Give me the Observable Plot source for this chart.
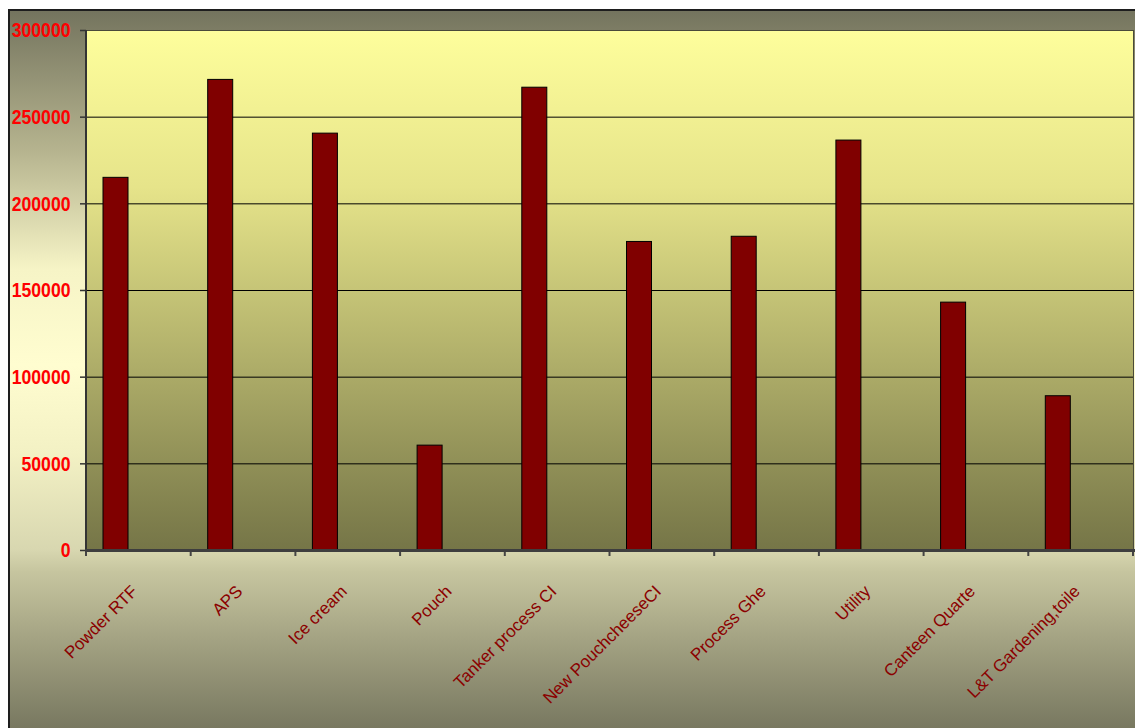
<!DOCTYPE html>
<html>
<head>
<meta charset="utf-8">
<script src="https://cdn.jsdelivr.net/npm/d3@7"></script>
<script src="https://cdn.jsdelivr.net/npm/@observablehq/plot@0.6"></script>
<style>
  html, body { margin: 0; padding: 0; background: #fff; width: 1135px; height: 728px; overflow: hidden; }
  #panel {
    position: absolute; left: 8px; top: 9px; width: 1150px; height: 740px;
    box-sizing: border-box;
    border-left: 2px solid #1e1e1e; border-top: 2px solid #1e1e1e;
    background: linear-gradient(to bottom,
      #74745e 0%, #b6b48f 19%, #f6f4c6 35%, #fffdd0 48%,
      #f3f1c4 60%, #d8d7b0 73%, #c6c59f 76%, #a4a383 85%, #6e6e58 100%);
  }
  #chart { position: absolute; left: 0; top: 0; }
</style>
</head>
<body>
<div id="panel"></div>
<div id="chart"></div>
<script>
// Consumption per section
const categories = [
  "Powder RTF", "APS", "Ice cream", "Pouch", "Tanker process CI",
  "New PouchcheeseCI", "Process Ghe", "Utility", "Canteen Quarte", "L&T Gardening,toile"
];
const values = [215000, 271500, 240500, 60500, 267000, 178000, 181000, 236500, 143000, 89000];
const yTicks = [0, 50000, 100000, 150000, 200000, 250000, 300000];
const gridValues = yTicks.filter(v => v > 0 && v < 300000);

const data = categories.map((category, i) => ({category, value: values[i]}));

const W = 1135, H = 728;
const mL = 86, mR = 2, mT = 30, mB = 178;
const step = (W - mL - mR) / categories.length;

// Axis lines and category boundary ticks, drawn from the plot's scales
function categoryAxis(index, scales, values, dimensions) {
  const {x, y} = scales;
  const y0 = y(0);
  const bw = x.bandwidth ? x.bandwidth() : step;
  const starts = categories.map(c => (x.bandwidth ? x(c) : x(c) - bw / 2));
  const bounds = starts.concat([starts[starts.length - 1] + bw]);
  const g = d3.create("svg:g");
  g.append("line")
    .attr("x1", starts[0]).attr("x2", starts[0])
    .attr("y1", y(300000)).attr("y2", y0)
    .attr("stroke", "#333").attr("stroke-width", 2);
  g.append("line")
    .attr("x1", starts[0] - 1).attr("x2", dimensions.width + 2)
    .attr("y1", y0 + 0.5).attr("y2", y0 + 0.5)
    .attr("stroke", "#3e3e3e").attr("stroke-width", 3);
  g.selectAll("line.tk").data(bounds).join("line")
    .attr("class", "tk")
    .attr("x1", d => d).attr("x2", d => d)
    .attr("y1", y0 + 2).attr("y2", y0 + 6)
    .attr("stroke", "#444").attr("stroke-width", 2);
  return g.node();
}

const chart = Plot.plot({
  width: W,
  height: H,
  marginLeft: mL,
  marginRight: mR,
  marginTop: mT,
  marginBottom: mB,
  style: {background: "transparent", overflow: "visible", fontFamily: "'Liberation Sans', Arial, sans-serif"},
  x: {domain: categories, padding: 0, round: false, axis: null},
  y: {domain: [0, 300000], axis: null},
  marks: [
    Plot.frame({fill: "url(#plotBg)", stroke: "#4a4a3a", strokeWidth: 1}),
    Plot.ruleY(gridValues, {stroke: "#000", strokeWidth: 1}),
    Plot.barY(data, {
      x: "category", y: "value",
      fill: "#800000", stroke: "#000", strokeWidth: 1,
      insetLeft: 17, insetRight: step - 42
    }),
    Plot.axisY(yTicks, {
      label: null,
      tickFormat: d3.format("d"),
      tickSize: 6, tickPadding: 10,
      fontSize: 21, fontWeight: "bold",
      fill: "#ff0000", stroke: "#333", strokeWidth: 1.5
    }),
    Plot.text(categories, {
      x: d => d,
      frameAnchor: "bottom",
      rotate: -45,
      textAnchor: "end",
      lineAnchor: "middle",
      dx: -4, dy: 38,
      fontSize: 17,
      fill: "#8b0000"
    }),
    categoryAxis
  ]
});

// Vertical gradient for the plotting area
const defs = d3.select(chart).insert("defs", ":first-child");
const grad = defs.append("linearGradient")
  .attr("id", "plotBg").attr("x1", 0).attr("y1", 0).attr("x2", 0).attr("y2", 1);
grad.append("stop").attr("offset", "0%").attr("stop-color", "#fefe9c");
grad.append("stop").attr("offset", "30%").attr("stop-color", "#e6e48a");
grad.append("stop").attr("offset", "100%").attr("stop-color", "#757547");

// Narrow, tall numerals for the value axis
d3.select(chart).selectAll('[aria-label="y-axis tick label"] text').each(function() {
  const t = d3.select(this);
  const tr = t.attr("transform") || "";
  t.attr("fill", "#ff0000").attr("transform", tr + " scale(0.84,1)");
});

document.getElementById("chart").appendChild(chart);
</script>
</body>
</html>
